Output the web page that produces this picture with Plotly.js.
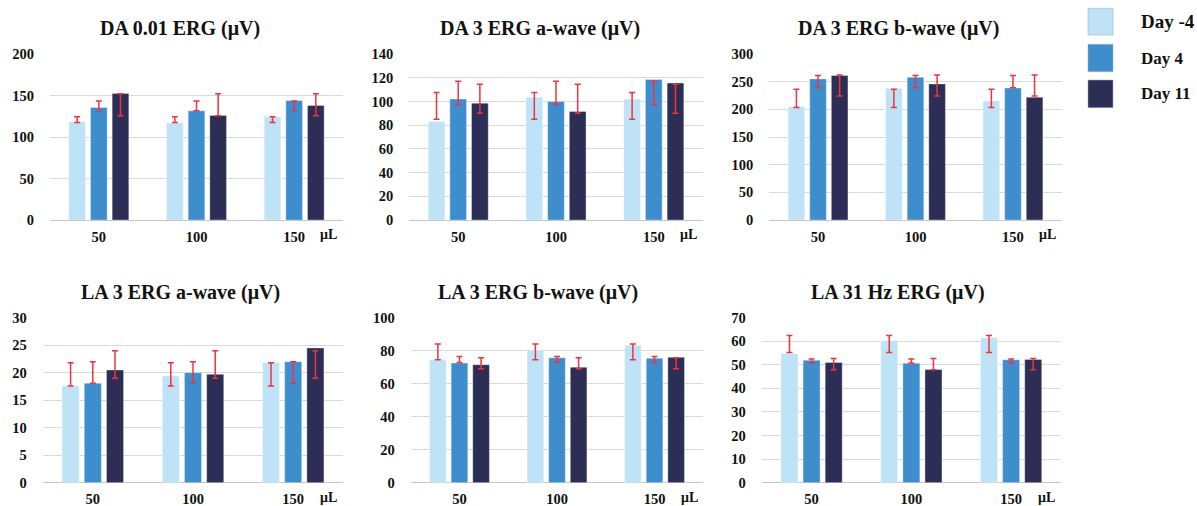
<!DOCTYPE html>
<html>
<head>
<meta charset="utf-8">
<script src="https://cdn.plot.ly/plotly-3.0.1.min.js"></script>
<style>html,body{margin:0;padding:0;background:#fff;}#chart{width:1197px;height:506px;}</style>
</head>
<body>
<div id="chart"></div>
<script>
// ---------- data ----------
const categories = ['50', '100', '150'];
const seriesNames = ['Day -4', 'Day 4', 'Day 11'];
const panelTitles = ['DA 0.01 ERG (μV)', 'DA 3 ERG a-wave (μV)', 'DA 3 ERG b-wave (μV)',
                     'LA 3 ERG a-wave (μV)', 'LA 3 ERG b-wave (μV)', 'LA 31 Hz ERG (μV)'];
const unitLabel = 'μL';

// DA 0.01 ERG
const da001_dayM4 = [118.5, 117, 124.5];
const da001_day4  = [135.5, 131.5, 144];
const da001_day11 = [152.5, 126, 138];
const da001_errHigh = [124.5, 143.5, 152];   // per series: Day -4, Day 4, Day 11
const da001_errLow  = [117.5, 131.5, 125.5];

// DA 3 ERG a-wave
const da3a_dayM4 = [83, 103.5, 102];
const da3a_day4  = [102, 100, 118.5];
const da3a_day11 = [98.5, 91.5, 115.5];
const da3a_errHigh = [107.5, 117, 114.5];
const da3a_errLow  = [85, 97.5, 90];

// DA 3 ERG b-wave
const da3b_dayM4 = [205, 238, 215];
const da3b_day4  = [255, 258, 238.5];
const da3b_day11 = [261, 246, 222];
const da3b_errHigh = [236.5, 261, 262];
const da3b_errLow  = [203.5, 239, 224];

// LA 3 ERG a-wave
const la3a_dayM4 = [17.6, 19.4, 21.9];
const la3a_day4  = [18.1, 20, 22];
const la3a_day11 = [20.5, 19.7, 24.5];
const la3a_errHigh = [21.8, 22, 24];
const la3a_errLow  = [17.6, 18.1, 19];

// LA 3 ERG b-wave
const la3b_dayM4 = [74.5, 80.5, 83.3];
const la3b_day4  = [72.5, 75.7, 75.5];
const la3b_day11 = [71.5, 70, 76];
const la3b_errHigh = [84, 76.5, 75.8];
const la3b_errLow  = [74.5, 72.8, 69];

// LA 31 Hz ERG
const la31_dayM4 = [54.8, 60.3, 61.5];
const la31_day4  = [52, 50.7, 52.2];
const la31_day11 = [51, 48, 52.3];
const la31_errHigh = [62.5, 52.5, 52.7];
const la31_errLow  = [55.2, 50.8, 47.9];

const yMax  = [200, 140, 300, 30, 100, 70];
const yStep = [50, 20, 50, 5, 20, 10];

// ---------- assembly ----------
const panelSeries = [
  [da001_dayM4, da001_day4, da001_day11],
  [da3a_dayM4, da3a_day4, da3a_day11],
  [da3b_dayM4, da3b_day4, da3b_day11],
  [la3a_dayM4, la3a_day4, la3a_day11],
  [la3b_dayM4, la3b_day4, la3b_day11],
  [la31_dayM4, la31_day4, la31_day11]
];
const panelErrHigh = [da001_errHigh, da3a_errHigh, da3b_errHigh, la3a_errHigh, la3b_errHigh, la31_errHigh];
const panelErrLow  = [da001_errLow, da3a_errLow, da3b_errLow, la3a_errLow, la3b_errLow, la31_errLow];

const colors = ['#bfe3f6', '#3e8ecd', '#2c2e55'];
const errColor = '#ee3340';
const W = 1197, H = 506;
const px = v => v / W;
const py = v => 1 - v / H;
const domains = [
  {x: [50, 343], y: [54, 220], title: [180, 28]},
  {x: [409.3, 702.7], y: [54, 220], title: [540, 28]},
  {x: [769.3, 1061.7], y: [54, 220], title: [898, 28]},
  {x: [42.7, 343.3], y: [317.7, 482.7], title: [180, 292.7]},
  {x: [410.7, 703.3], y: [317.7, 482.7], title: [538, 292.7]},
  {x: [761.7, 1061], y: [317.7, 482.7], title: [898, 292.7]}
];

const FONT = 'Liberation Serif, Times New Roman, serif';
const traces = [];
const errTraces = [];
const layout = {
  width: W, height: H,
  margin: {l: 0, r: 0, t: 0, b: 0},
  paper_bgcolor: '#fff', plot_bgcolor: '#fff',
  barmode: 'group', bargap: 0.335, bargroupgap: 0.23,
  showlegend: false,
  font: {family: FONT, color: '#111'},
  annotations: [], shapes: []
};

domains.forEach((d, i) => {
  const n = i + 1;
  const xa = 'x' + n, ya = 'y' + n;
  seriesNames.forEach((name, s) => {
    traces.push({
      type: 'bar', x: categories, y: panelSeries[i][s], name: name,
      xaxis: xa, yaxis: ya, offsetgroup: String(s),
      marker: {color: colors[s], line: {width: 0.6, color: 'rgba(255,255,255,0.6)'}},
      showlegend: false
    });
    const lo = categories.map(() => panelErrLow[i][s]);
    const span = categories.map(() => panelErrHigh[i][s] - panelErrLow[i][s]);
    errTraces.push({
      type: 'bar', x: categories, y: lo, xaxis: xa, yaxis: ya, offsetgroup: String(s),
      marker: {color: 'rgba(0,0,0,0)'}, hoverinfo: 'skip', showlegend: false,
      error_y: {type: 'data', symmetric: false, array: span, arrayminus: categories.map(() => 0),
                color: errColor, thickness: 1.5, width: 3}
    });
  });
  layout['xaxis' + (n === 1 ? '' : n)] = {
    domain: [px(d.x[0]), px(d.x[1])], anchor: ya, type: 'category',
    showgrid: false, showline: false, ticks: '', zeroline: false,
    tickfont: {family: FONT, size: 14.5, weight: 'bold', color: '#111'},
    ticklabelstandoff: 6, fixedrange: true
  };
  layout['yaxis' + (n === 1 ? '' : n)] = {
    domain: [py(d.y[1]), py(d.y[0])], anchor: xa,
    range: [0, yMax[i]], dtick: yStep[i], tick0: 0,
    showgrid: true, gridcolor: '#d9d9d9', gridwidth: 1,
    zeroline: true, zerolinecolor: '#c6c6c6', zerolinewidth: 1,
    showline: false, ticks: '',
    tickfont: {family: FONT, size: 14.5, weight: 'bold', color: '#111'},
    ticklabelstandoff: 15, fixedrange: true
  };
  layout.annotations.push({
    text: panelTitles[i], xref: 'paper', yref: 'paper',
    x: px(d.title[0]), y: py(d.title[1]), xanchor: 'center', yanchor: 'middle',
    showarrow: false, font: {family: FONT, size: 20, weight: 'bold', color: '#111'}
  });
  layout.annotations.push({
    text: unitLabel, xref: xa + ' domain', yref: ya + ' domain',
    x: 0.952, y: 0, xanchor: 'center', yanchor: 'middle', yshift: -15,
    showarrow: false, font: {family: FONT, size: 14, weight: 'bold', color: '#111'}
  });
});

// custom legend
const legendBoxes = [[8.3, 35], [44.3, 71.7], [80, 107.7]];
const legendSizes = [19, 17, 17];
seriesNames.forEach((name, s) => {
  const b = legendBoxes[s];
  layout.shapes.push({
    type: 'rect', xref: 'paper', yref: 'paper',
    x0: px(1088), x1: px(1113), y0: py(b[1]), y1: py(b[0]),
    fillcolor: colors[s], line: {width: 0.8, color: 'rgba(150,170,210,0.7)'}
  });
  layout.annotations.push({
    text: name, xref: 'paper', yref: 'paper',
    x: px(1139), y: py((b[0] + b[1]) / 2), xanchor: 'left', yanchor: 'middle',
    showarrow: false, font: {family: FONT, size: legendSizes[s], weight: 'bold', color: '#111'}
  });
});

Plotly.newPlot('chart', traces.concat(errTraces), layout, {displayModeBar: false, staticPlot: true});
</script>
</body>
</html>
